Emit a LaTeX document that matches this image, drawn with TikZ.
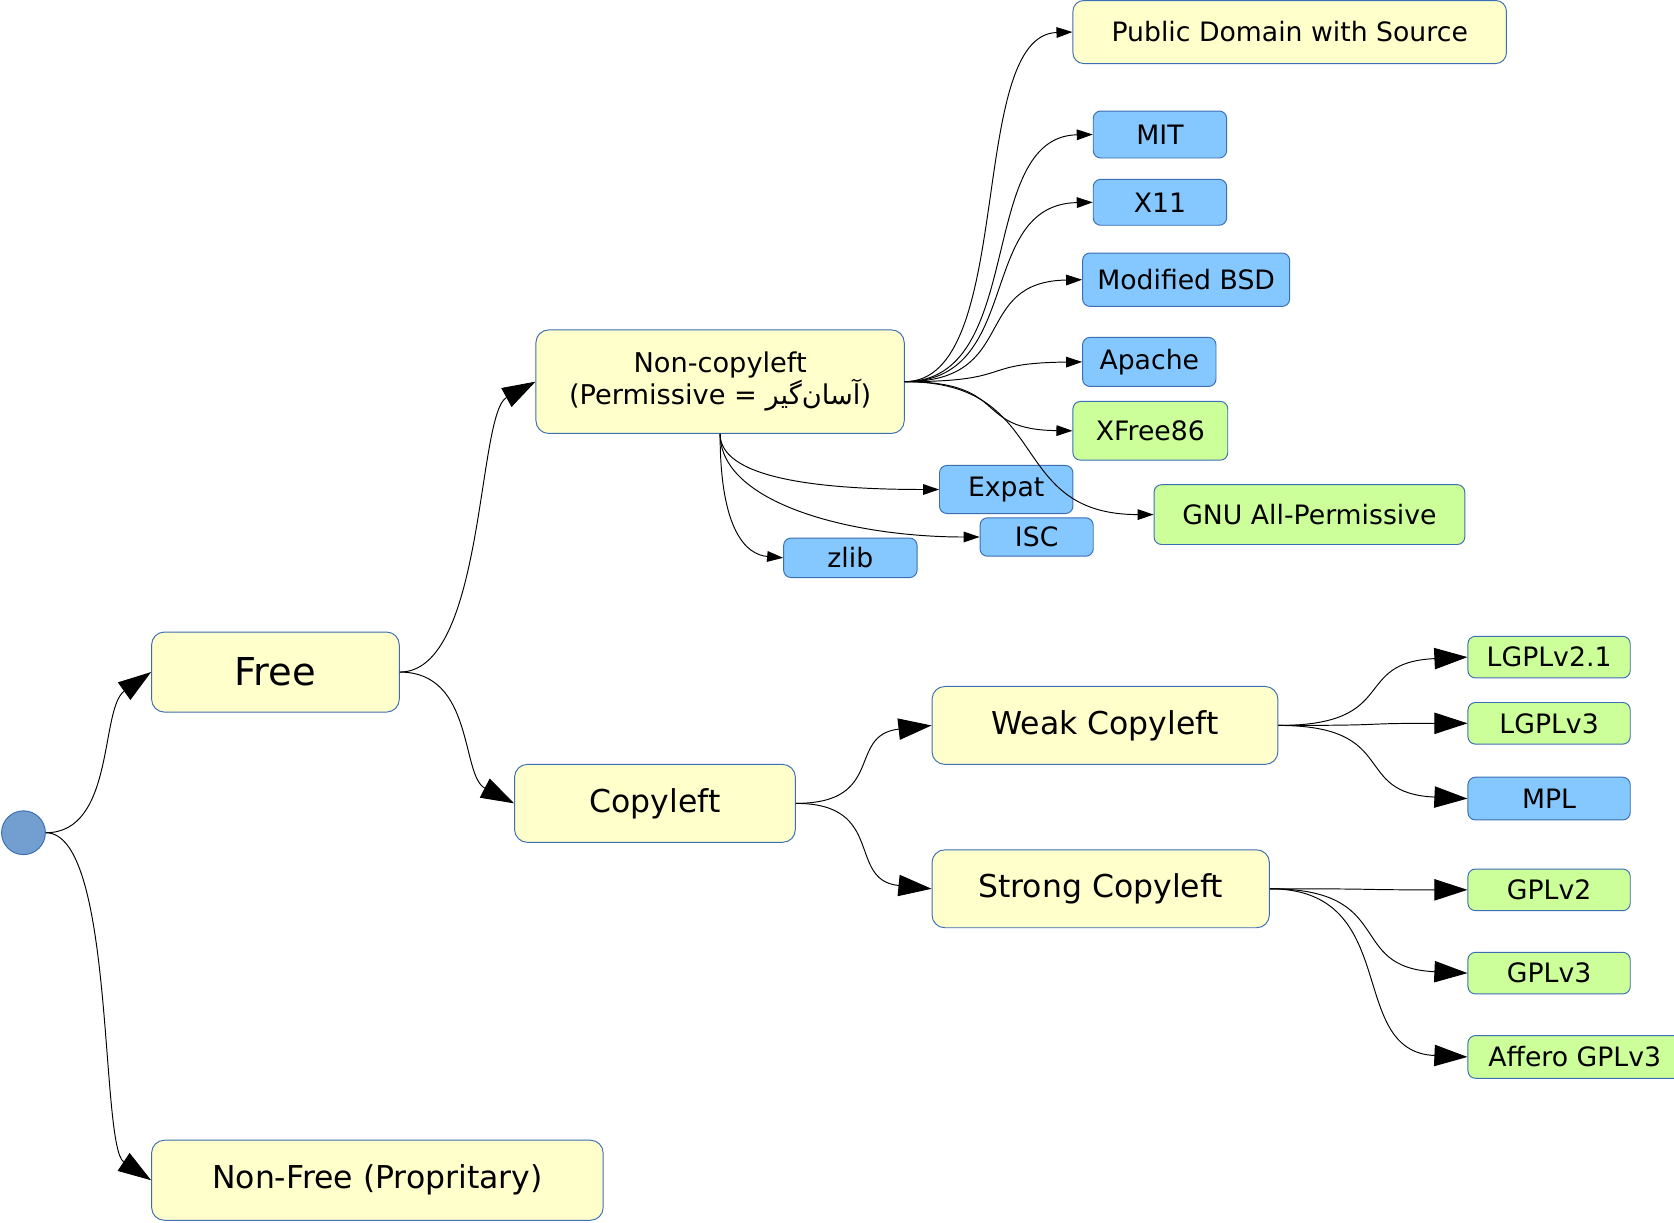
\documentclass[tikz,border=0pt]{standalone}
\usepackage{fontspec}
\setmainfont{DejaVu Sans}
\newfontfamily\arabicfont[Script=Arabic]{DejaVu Sans}
\TeXXeTstate=1
\usetikzlibrary{arrows.meta}
\definecolor{boxY}{HTML}{FFFFCC}
\definecolor{boxB}{HTML}{84C8FF}
\definecolor{boxG}{HTML}{CCFF99}
\definecolor{edgeB}{HTML}{3C6EB4}
\definecolor{rootB}{HTML}{729FCF}
\begin{document}
\begin{tikzpicture}[x=1pt,y=-1pt,
  box/.style={draw=edgeB, line width=0.9pt, inner sep=0pt, anchor=center},
  ybox/.style={box, fill=boxY, rounded corners=12pt},
  bbox/.style={box, fill=boxB, rounded corners=7pt},
  gbox/.style={box, fill=boxG, rounded corners=7pt},
  fsS/.style={font=\fontsize{25}{29}\selectfont},
  fsM/.style={font=\fontsize{29.5}{34}\selectfont},
  fsL/.style={font=\fontsize{36}{40}\selectfont},
  big/.style={-{Triangle[length=31pt,width=20pt]}, line width=0.9pt},
  small/.style={-{Triangle[length=15pt,width=10pt]}, line width=0.9pt}]
\useasboundingbox (0,0) rectangle (1568,1145);
\clip (0,0) rectangle (1568,1145);
\fill[white] (0,0) rectangle (1568,1145);

% root
\node[circle, draw=edgeB, fill=rootB, line width=0.9pt, minimum size=41pt, inner sep=0pt] (root) at (22,780) {};

% level 1
\node[ybox, fsL, minimum width=232pt, minimum height=75pt] (free) at (258,629.5) {Free};
\node[ybox, fsM, minimum width=423pt, minimum height=75pt] (nonfree) at (353.5,1105.5) {Non-Free (Propritary)};

% level 2
\node[ybox, minimum width=345pt, minimum height=97pt, align=center, font=\fontsize{25.5}{29}\selectfont] (nc) at (674.5,357.5) {Non-copyleft\\(Permissive = {\arabicfont\beginR آسان‌گیر\endR})};
\node[ybox, fsM, minimum width=263pt, minimum height=73pt] (cl) at (613.5,752.5) {Copyleft};

% level 3 (copyleft)
\node[ybox, fsM, minimum width=324pt, minimum height=73pt] (weak) at (1035,679.5) {Weak Copyleft};
\node[ybox, fsM, minimum width=316pt, minimum height=73pt] (strong) at (1031,832.5) {Strong Copyleft};

% non-copyleft children
\node[ybox, fsS, rounded corners=10pt, minimum width=406pt, minimum height=59pt] (pd) at (1208,30) {Public Domain with Source};
\node[bbox, fsS, minimum width=125pt, minimum height=44pt] (mit) at (1086.5,126) {MIT};
\node[bbox, fsS, minimum width=125pt, minimum height=43pt] (x11) at (1086.5,189.5) {X11};
\node[bbox, fsS, minimum width=194pt, minimum height=50pt] (bsd) at (1111,262) {Modified BSD};
\node[bbox, fsS, minimum width=125pt, minimum height=46pt] (apache) at (1076.5,339) {Apache};
\node[gbox, fsS, minimum width=145pt, minimum height=55pt] (xfree) at (1077.5,403.5) {XFree86};
\node[bbox, fsS, minimum width=125pt, minimum height=45pt] (expat) at (942.5,458.5) {Expat};
\node[gbox, fsS, minimum width=291pt, minimum height=56pt] (gnu) at (1226.5,482) {GNU All-Permissive};
\node[bbox, fsS, minimum width=106pt, minimum height=36pt] (isc) at (971,503) {ISC};
\node[bbox, fsS, minimum width=125pt, minimum height=37pt] (zlib) at (796.5,522.5) {zlib};

% copyleft children
\node[gbox, fsS, minimum width=152pt, minimum height=39pt] (lgpl21) at (1451,615.5) {LGPLv2.1};
\node[gbox, fsS, minimum width=152pt, minimum height=39pt] (lgpl3) at (1451,677.5) {LGPLv3};
\node[bbox, fsS, minimum width=152pt, minimum height=40pt] (mpl) at (1451,748) {MPL};
\node[gbox, fsS, minimum width=152pt, minimum height=39pt] (gpl2) at (1451,833.5) {GPLv2};
\node[gbox, fsS, minimum width=152pt, minimum height=39pt] (gpl3) at (1451,911.5) {GPLv3};
\node[gbox, fsS, minimum width=200pt, minimum height=40pt] (affero) at (1475,990) {Affero GPLv3};

% edges: main
\draw[big] (root.east) .. controls +(65,0) and +(-48,34) .. (free.west);
\draw[big] (root.east) .. controls +(65,0) and +(-48,-32) .. (nonfree.west);
\draw[big] (free.east) .. controls +(80,0) and +(-55,30) .. (nc.west);
\draw[big] (free.east) .. controls +(70,0) and +(-50,-26) .. (cl.west);
\draw[big] (cl.east) .. controls +(85,0) and +(-80,9) .. (weak.west);
\draw[big] (cl.east) .. controls +(85,0) and +(-80,-8) .. (strong.west);
\draw[big] (weak.east) .. controls +(115,0) and +(-110,5) .. (lgpl21.west);
\draw[big] (weak.east) .. controls +(115,0) and +(-110,0) .. (lgpl3.west);
\draw[big] (weak.east) .. controls +(115,0) and +(-110,-5) .. (mpl.west);
\draw[big] (strong.east) .. controls +(120,0) and +(-115,0) .. (gpl2.west);
\draw[big] (strong.east) .. controls +(120,0) and +(-115,-5) .. (gpl3.west);
\draw[big] (strong.east) .. controls +(125,0) and +(-115,-5) .. (affero.west);

% edges: non-copyleft fan
\draw[small] (nc.east) .. controls +(105,0) and +(-100,3) .. (pd.west);
\draw[small] (nc.east) .. controls +(115,0) and +(-110,2) .. (mit.west);
\draw[small] (nc.east) .. controls +(112,0) and +(-110,2) .. (x11.west);
\draw[small] (nc.east) .. controls +(108,0) and +(-105,2) .. (bsd.west);
\draw[small] (nc.east) .. controls +(105,0) and +(-100,1) .. (apache.west);
\draw[small] (nc.east) .. controls +(100,0) and +(-95,-1) .. (xfree.west);
\draw[small] (nc.east) .. controls +(140,0) and +(-140,0) .. (gnu.west);
\draw[small] (nc.south) .. controls +(0,40) and +(-120,0) .. (expat.west);
\draw[small] (nc.south) .. controls +(0,65) and +(-120,0) .. (isc.west);
\draw[small] (nc.south) .. controls +(0,90) and +(-35,-3) .. (zlib.west);
\end{tikzpicture}
\end{document}
